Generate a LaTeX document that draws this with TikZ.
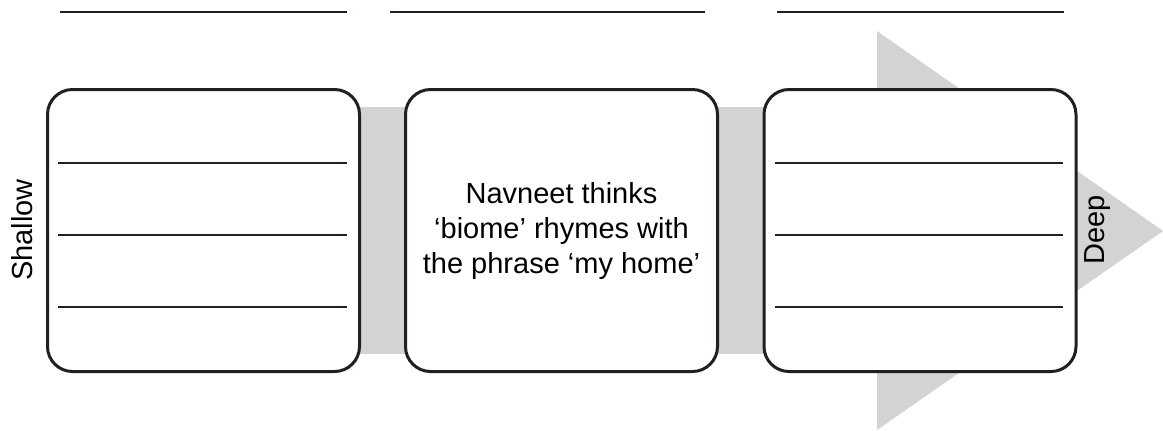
\documentclass[tikz,border=0pt]{standalone}
\usepackage{fontspec}
\setmainfont{Liberation Sans}
\definecolor{bandgrey}{HTML}{D1D3D4}
\definecolor{inkdark}{HTML}{231F20}
\tikzset{
  card/.style={draw=inkdark,line width=1.5pt,fill=white,rounded corners=12.5pt,
    minimum width=156pt,minimum height=141pt,inner sep=0pt},
  rule/.style={draw=inkdark,line width=0.7pt},
}
\begin{document}
\begin{tikzpicture}[x=0.5pt,y=-0.5pt,font=\fontsize{14.5}{17.5}\selectfont]
  \useasboundingbox (0,0) rectangle (1163,430);
  % grey arrow behind the cards
  \fill[bandgrey] (300,107) rectangle (878,354);
  \fill[bandgrey] (877,31) -- (1163,231) -- (877,430) -- cycle;
  \node[card] (S) at (203.5,230.5) {};
  \node[card,align=center] (M) at (561.5,230.5) {Navneet thinks\\‘biome’ rhymes with\\the phrase ‘my home’};
  \node[card] (D) at (920,230.5) {};
  \node[rotate=90] (shallow) at (22,230) {Shallow};
  \node[rotate=90] (deep) at (1098,230) {Deep};
  % writing lines
  \draw[rule] (60,12) -- (347,12);
  \draw[rule] (390,12) -- (705,12);
  \draw[rule] (777,12) -- (1064,12);
  \foreach \y in {163,235,307} {
    \draw[rule] (58,\y) -- (347,\y);
    \draw[rule] (775,\y) -- (1063,\y);
  }
\end{tikzpicture}
\end{document}
